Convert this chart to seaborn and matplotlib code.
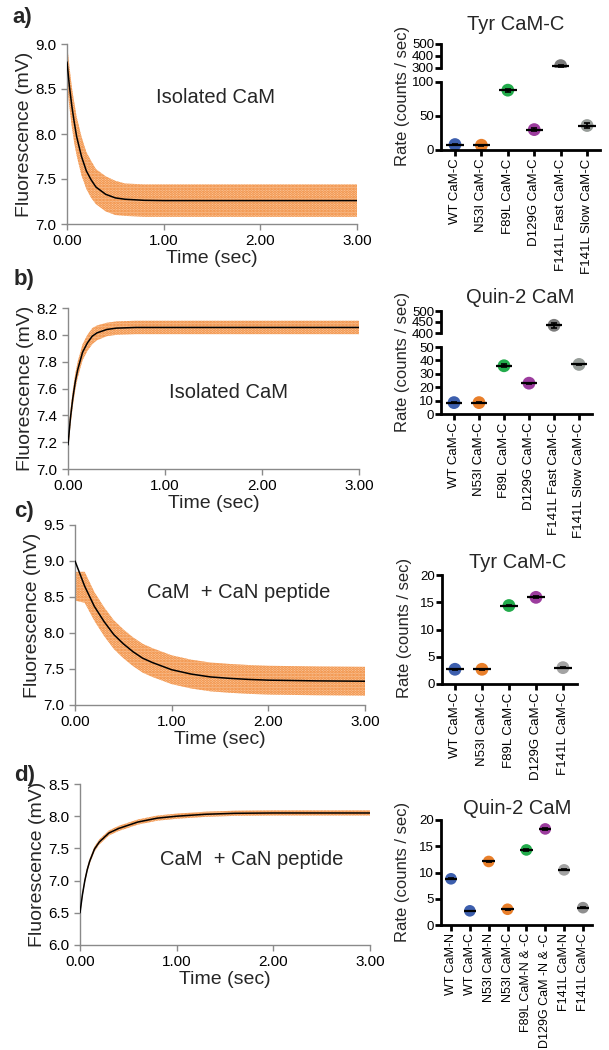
import numpy as np
import pandas as pd
import matplotlib
matplotlib.use("Agg")
import matplotlib.pyplot as plt
import seaborn as sns

# ---- stopped-flow traces (fit curve + extent of the noisy data cloud) ----
t_a = [0, .025, .05, .075, .1, .15, .2, .25, .3, .4, .5, .6, .8, 1.0, 1.5, 2.0, 2.5, 3.0]
fit_a = [8.80, 8.53, 8.31, 8.13, 7.97, 7.75, 7.59, 7.49, 7.41, 7.33, 7.29, 7.275, 7.263, 7.26, 7.26, 7.26, 7.26, 7.26]
lo_a = [8.55, 8.30, 8.08, 7.90, 7.76, 7.54, 7.39, 7.29, 7.22, 7.14, 7.10, 7.09, 7.08, 7.08, 7.08, 7.08, 7.08, 7.08]
hi_a = [9.00, 8.75, 8.52, 8.35, 8.19, 7.97, 7.80, 7.70, 7.61, 7.53, 7.48, 7.45, 7.44, 7.44, 7.44, 7.44, 7.44, 7.44]

t_b = [0, .025, .05, .075, .1, .15, .2, .25, .3, .4, .5, .7, 1.0, 2.0, 3.0]
fit_b = [7.18, 7.38, 7.53, 7.65, 7.74, 7.87, 7.94, 7.99, 8.015, 8.04, 8.05, 8.055, 8.055, 8.055, 8.055]
lo_b = [7.12, 7.32, 7.47, 7.59, 7.68, 7.81, 7.88, 7.93, 7.96, 7.99, 8.0, 8.005, 8.005, 8.005, 8.005]
hi_b = [7.24, 7.44, 7.59, 7.71, 7.80, 7.93, 8.0, 8.05, 8.07, 8.09, 8.10, 8.105, 8.105, 8.105, 8.105]

t_c = [0, .1, .2, .3, .4, .5, .6, .7, .8, 1.0, 1.2, 1.4, 1.6, 1.8, 2.0, 2.5, 3.0]
fit_c = [9.00, 8.65, 8.37, 8.16, 7.98, 7.85, 7.74, 7.65, 7.59, 7.49, 7.43, 7.39, 7.37, 7.355, 7.345, 7.335, 7.33]
lo_c = [8.45, 8.42, 8.17, 7.96, 7.78, 7.65, 7.54, 7.45, 7.39, 7.29, 7.23, 7.19, 7.17, 7.155, 7.145, 7.135, 7.13]
hi_c = [8.85, 8.85, 8.57, 8.36, 8.18, 8.05, 7.94, 7.85, 7.79, 7.69, 7.63, 7.59, 7.57, 7.555, 7.545, 7.535, 7.53]

t_d = [0, .025, .05, .075, .1, .15, .2, .3, .4, .5, .6, .8, 1.0, 1.3, 1.6, 2.0, 3.0]
fit_d = [6.50, 6.78, 7.00, 7.17, 7.30, 7.49, 7.60, 7.74, 7.81, 7.86, 7.91, 7.97, 8.00, 8.03, 8.045, 8.05, 8.05]
lo_d = [6.46, 6.74, 6.96, 7.13, 7.26, 7.45, 7.56, 7.70, 7.77, 7.82, 7.87, 7.93, 7.96, 7.99, 8.005, 8.01, 8.01]
hi_d = [6.54, 6.82, 7.04, 7.21, 7.34, 7.53, 7.64, 7.78, 7.85, 7.90, 7.95, 8.01, 8.04, 8.07, 8.085, 8.09, 8.09]

# ---- rate constants ----
cats_ab = ['WT CaM-C', 'N53I CaM-C', 'F89L CaM-C', 'D129G CaM-C', 'F141L Fast CaM-C', 'F141L Slow CaM-C']
rate_a = [8, 7, 88, 30, 320, 36]
err_a = [0.5, 0.5, 2, 2, 8, 4]
rate_b = [8.5, 8.5, 36, 23, 435, 37]
err_b = [0.3, 0.3, 1, 0.5, 10, 0.3]
cats_c = ['WT CaM-C', 'N53I CaM-C', 'F89L CaM-C', 'D129G CaM-C', 'F141L CaM-C']
rate_c = [2.7, 2.7, 14.4, 15.9, 3.0]
err_c = [0.05, 0.05, 0.15, 0.2, 0.05]
cats_d = ['WT CaM-N', 'WT CaM-C', 'N53I CaM-N', 'N53I CaM-C', 'F89L CaM-N & -C',
          'D129G CaM -N & -C', 'F141L CaM-N', 'F141L CaM-C']
rate_d = [8.8, 2.7, 12.1, 3.0, 14.3, 18.3, 10.5, 3.3]
err_d = [0.1, 0.05, 0.15, 0.05, 0.15, 0.2, 0.1, 0.1]

BLUE, ORANGE, GREEN, PURPLE = '#3d5fae', '#e97f2a', '#22ab4b', '#9c3c9e'
col_ab = [BLUE, ORANGE, GREEN, PURPLE, '#7b7b7b', '#979d99']
col_c = [BLUE, ORANGE, GREEN, PURPLE, '#a3a3a3']
col_d = [BLUE, BLUE, ORANGE, ORANGE, GREEN, PURPLE, '#a3a3a3', '#8f8f8f']

sns.set_style("ticks")
plt.rcParams['font.family'] = ['Liberation Sans', 'DejaVu Sans']
plt.rcParams['hatch.linewidth'] = 1.4

fig = plt.figure(figsize=(6.09, 10.5), dpi=100)
W, H = 609, 1050


def px_axes(x0, y0, x1, y1):
    return fig.add_axes([x0 / W, 1 - y1 / H, (x1 - x0) / W, (y1 - y0) / H])


def trace_panel(box, t, fit, lo, hi, ylim, ystep, note, note_xy, letter, letter_xy):
    ax = px_axes(*box)
    ax.fill_between(t, lo, hi, facecolor='#fac9a0', edgecolor='#f0832f',
                    hatch='......', linewidth=0, zorder=1)
    sns.lineplot(x=t, y=fit, ax=ax, color='black', linewidth=1.1, zorder=3)
    ax.set_xlim(0, 3)
    ax.set_ylim(*ylim)
    ax.set_xticks([0, 1, 2, 3])
    ax.set_xticklabels(['0.00', '1.00', '2.00', '3.00'])
    ax.set_yticks(np.arange(ylim[0], ylim[1] + 1e-9, ystep))
    ax.yaxis.set_major_formatter(matplotlib.ticker.FormatStrFormatter('%.1f'))
    for s in ['top', 'right']:
        ax.spines[s].set_visible(False)
    for s in ['left', 'bottom']:
        ax.spines[s].set_color('#8a8a8a')
        ax.spines[s].set_linewidth(1.0)
    ax.tick_params(colors='#8a8a8a', labelcolor='black', labelsize=11, length=4, width=1)
    ax.set_xlabel('Time (sec)', fontsize=14, labelpad=1)
    ax.set_ylabel('Fluorescence (mV)', fontsize=14, labelpad=2)
    ax.text(note_xy[0], note_xy[1], note, fontsize=14.5, ha='center', va='center')
    fig.text(letter_xy[0] / W, 1 - letter_xy[1] / H, letter, fontsize=16,
             fontweight='bold', ha='left', va='center')
    return ax


trace_panel((67, 44, 357, 224), t_a, fit_a, lo_a, hi_a, (7.0, 9.0), 0.5,
            'Isolated CaM', (1.54, 8.41), 'a)', (12, 18))
trace_panel((68, 308, 359, 469), t_b, fit_b, lo_b, hi_b, (7.0, 8.2), 0.2,
            'Isolated CaM', (1.65, 7.57), 'b)', (14, 280))
trace_panel((75, 525, 365, 705), t_c, fit_c, lo_c, hi_c, (7.0, 9.5), 0.5,
            'CaM  + CaN peptide', (1.69, 8.56), 'c)', (14, 512))
trace_panel((80, 784, 370, 945), t_d, fit_d, lo_d, hi_d, (6.0, 8.5), 0.5,
            'CaM  + CaN peptide', (1.78, 7.32), 'd)', (14, 776))


def style_rate_ax(ax, bottom=True, xsize=9.5):
    for s in ['top', 'right']:
        ax.spines[s].set_visible(False)
    ax.spines['left'].set_linewidth(2)
    ax.spines['left'].set_color('black')
    ax.spines['bottom'].set_linewidth(2)
    ax.spines['bottom'].set_color('black')
    ax.tick_params(axis='y', labelsize=9.5, length=4, width=2, pad=1, colors='black')
    if bottom:
        ax.tick_params(axis='x', labelsize=xsize, length=4, width=2, pad=2,
                       colors='black', labelrotation=90)
    else:
        ax.spines['bottom'].set_visible(False)
        ax.tick_params(axis='x', bottom=False, labelbottom=False)


def draw_rates(ax, cats, rates, errs, cols, size):
    df = pd.DataFrame({'cat': cats, 'rate': rates})
    sns.scatterplot(data=df, x='cat', y='rate', hue='cat', palette=cols, s=size,
                    linewidth=0, legend=False, ax=ax, zorder=2, clip_on=True)
    xs = np.arange(len(cats))
    ax.hlines(rates, xs - 0.33, xs + 0.33, color='black', linewidth=1.6, zorder=3)
    ax.errorbar(xs, rates, yerr=errs, fmt='none', ecolor='black', elinewidth=1.2,
                capsize=2.5, capthick=1.2, zorder=3)


def rate_panel(cats, rates, errs, cols, box_lo, lims_lo, ticks_lo, xlim,
               title, title_xy, ylab_xy, box_hi=None, lims_hi=None, ticks_hi=None,
               size=85, xsize=9.5):
    ax = px_axes(*box_lo)
    draw_rates(ax, cats, rates, errs, cols, size)
    ax.set_ylim(*lims_lo)
    ax.set_yticks(ticks_lo)
    ax.set_xlim(*xlim)
    ax.set_xlabel('')
    ax.set_ylabel('')
    style_rate_ax(ax, xsize=xsize)
    if box_hi is not None:
        ax2 = px_axes(box_hi[0], box_hi[1], box_lo[2], box_hi[3])
        draw_rates(ax2, cats, rates, errs, cols, size)
        ax2.set_ylim(*lims_hi)
        ax2.set_yticks(ticks_hi)
        ax2.set_xlim(*xlim)
        ax2.set_xlabel('')
        ax2.set_ylabel('')
        style_rate_ax(ax2, bottom=False)
    fig.text(title_xy[0] / W, 1 - title_xy[1] / H, title, fontsize=14.5,
             ha='center', va='center')
    fig.text(ylab_xy[0] / W, 1 - ylab_xy[1] / H, 'Rate (counts / sec)', fontsize=12,
             ha='center', va='center', rotation=90)


rate_panel(cats_ab, rate_a, err_a, col_ab, (441, 82, 600, 150), (0, 100), [0, 50, 100],
           (-0.53, 5.49), 'Tyr CaM-C', (516, 25), (402, 96),
           box_hi=(441, 44, 600, 68), lims_hi=(300, 500), ticks_hi=[300, 400, 500])
rate_panel(cats_ab, rate_b, err_b, col_ab, (441, 347, 592, 414), (0, 50), [0, 10, 20, 30, 40, 50],
           (-0.52, 5.52), 'Quin-2 CaM', (520, 298), (402, 362),
           box_hi=(441, 311, 592, 333), lims_hi=(400, 500), ticks_hi=[400, 450, 500])
rate_panel(cats_c, rate_c, err_c, col_c, (442, 575, 577, 684), (0, 20), [0, 5, 10, 15, 20],
           (-0.48, 4.52), 'Tyr CaM-C', (518, 563), (405, 628))
rate_panel(cats_d, rate_d, err_d, col_d, (441, 820, 592, 925), (0, 20), [0, 5, 10, 15, 20],
           (-0.53, 7.48), 'Quin-2 CaM', (517, 808), (403, 872), size=70, xsize=9)

fig.savefig('out.png', dpi=100)
